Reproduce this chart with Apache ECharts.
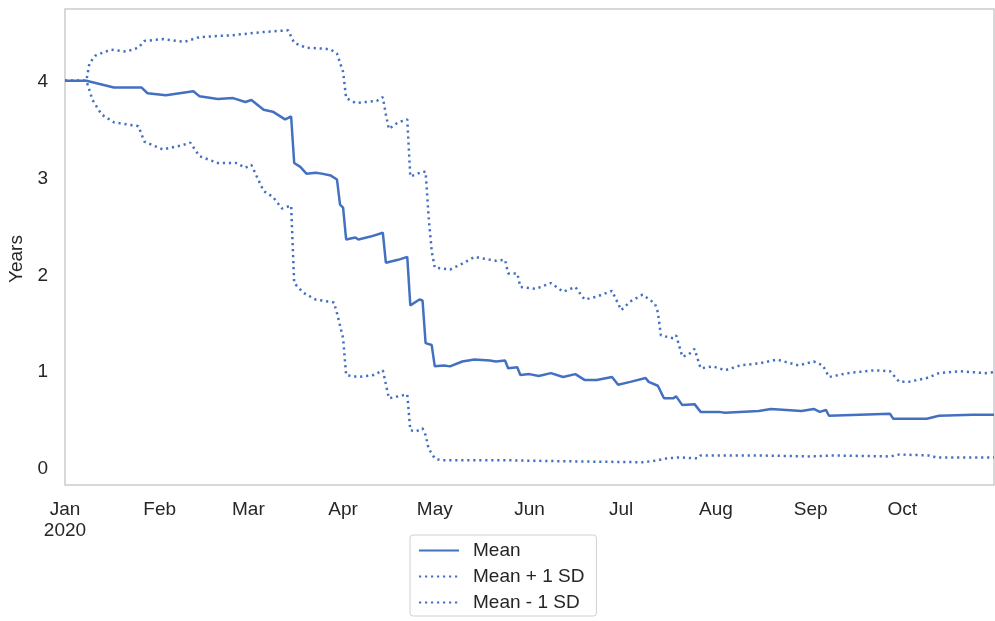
<!DOCTYPE html>
<html>
<head>
<meta charset="utf-8">
<script src="https://cdn.jsdelivr.net/npm/echarts@6/dist/echarts.min.js"></script>
<style>
html,body{margin:0;padding:0;background:#fff;}
#chart{width:995px;height:621px;}
</style>
</head>
<body>
<div id="chart"></div>
<script>
// Day offsets from 2020-01-01 and values (years)
const meanDays = [0,7,16,25,27,33,42,44,50,55,59,61,65,68,72,74,75,77,79,82,84,87,89,90,91,92,95,96,100,104,105,109,112,113,116,117,118,120,121,124,126,130,134,139,141,144,145,148,149,152,155,159,163,167,170,174,179,181,185,190,191,194,196,199,200,202,206,208,214,216,227,231,241,245,247,249,250,260,270,271,282,286,297,304];
const meanVals = [4.01,4.01,3.94,3.94,3.88,3.86,3.90,3.85,3.82,3.83,3.79,3.81,3.71,3.69,3.61,3.64,3.16,3.12,3.05,3.06,3.05,3.03,2.99,2.73,2.70,2.37,2.39,2.37,2.40,2.44,2.13,2.16,2.19,1.69,1.75,1.74,1.30,1.28,1.06,1.07,1.06,1.11,1.13,1.12,1.11,1.12,1.04,1.05,0.97,0.98,0.96,0.99,0.95,0.98,0.92,0.92,0.95,0.87,0.90,0.94,0.90,0.86,0.73,0.73,0.75,0.66,0.67,0.59,0.59,0.58,0.60,0.62,0.60,0.62,0.59,0.61,0.55,0.56,0.57,0.52,0.52,0.55,0.56,0.56];

const upperDays = [0,7,8,10,15,20,24,26,32,39,44,55,64,73,75,79,85,87,89,91,92,95,102,104,105,106,109,112,113,117,118,119,120,121,126,130,134,141,144,145,148,149,154,159,163,167,170,174,179,182,185,189,193,194,195,199,200,202,204,206,208,212,216,221,227,233,240,245,248,250,256,265,270,273,276,282,286,293,301,304];
const upperVals = [4.01,4.01,4.19,4.27,4.33,4.31,4.35,4.42,4.44,4.41,4.46,4.48,4.51,4.53,4.40,4.35,4.34,4.33,4.29,4.10,3.83,3.78,3.80,3.84,3.66,3.51,3.58,3.61,3.02,3.07,3.07,2.60,2.25,2.08,2.06,2.12,2.19,2.15,2.16,2.02,2.02,1.88,1.86,1.92,1.83,1.88,1.75,1.78,1.84,1.64,1.73,1.80,1.71,1.62,1.38,1.35,1.38,1.16,1.18,1.24,1.04,1.06,1.02,1.07,1.09,1.13,1.07,1.11,1.07,0.95,0.99,1.02,1.01,0.90,0.90,0.94,0.99,1.01,0.99,1.00];

const lowerDays = [0,7,9,12,16,20,24,26,32,38,41,44,50,56,59,61,65,68,71,74,75,78,82,88,89,91,92,96,101,104,106,109,112,113,115,117,118,119,121,123,145,163,189,194,197,201,207,208,227,244,251,270,273,283,285,304];
const lowerVals = [4.01,4.01,3.81,3.66,3.58,3.56,3.54,3.38,3.30,3.34,3.37,3.23,3.16,3.16,3.11,3.14,2.87,2.81,2.69,2.72,1.92,1.82,1.75,1.72,1.61,1.35,0.97,0.95,0.97,1.02,0.73,0.75,0.77,0.40,0.39,0.42,0.35,0.21,0.11,0.09,0.09,0.08,0.07,0.09,0.11,0.12,0.11,0.14,0.14,0.13,0.14,0.13,0.15,0.14,0.12,0.12];

const seriesNames = ['Mean', 'Mean + 1 SD', 'Mean - 1 SD'];
const yTickLabels = [0, 1, 2, 3, 4];
const monthLabels = ['Jan','Feb','Mar','Apr','May','Jun','Jul','Aug','Sep','Oct','Nov','Dec'];
const startDate = '2020-01-01';
const endDate = '2020-10-31';

const DAY = 86400000;
const base = Date.parse(startDate + 'T00:00:00Z');
function toPairs(days, vals){ return days.map((d,i)=>[base + d*DAY, vals[i]]); }

const color = '#4470c2';
const font = 'Liberation Sans, Arial, sans-serif';
const fs = 19;
const chart = echarts.init(document.getElementById('chart'), null, {renderer:'canvas'});
chart.setOption({
  animation: false,
  textStyle: {fontFamily: font},
  grid: {left: 65, top: 9, right: 1, bottom: 136, containLabel: false, outerBoundsMode: 'none', show: true, borderColor: '#cccccc', borderWidth: 1.5, backgroundColor: '#fff'},
  xAxis: {
    type: 'time',
    min: Date.parse(startDate + 'T00:00:00Z'),
    max: Date.parse(endDate + 'T00:00:00Z'),
    minInterval: 28*DAY, maxInterval: 31*DAY,
    axisLine: {show: false}, axisTick: {show: false}, splitLine: {show: false},
    axisLabel: {
      color: '#262626', fontSize: fs, margin: 14, fontFamily: font, lineHeight: 21,
      hideOverlap: false, showMinLabel: true, showMaxLabel: false,
      formatter: function(v){ const d = new Date(v); const m = d.getUTCMonth(); return m === 0 ? monthLabels[m] + '\n' + d.getUTCFullYear() : monthLabels[m]; }
    }
  },
  yAxis: {
    type: 'value', min: -0.165, max: 4.75,
    name: 'Years', nameLocation: 'middle', nameGap: 38,
    nameTextStyle: {color: '#262626', fontSize: fs, fontFamily: font, padding: [0, 24, 0, 0]},
    axisLine: {show: false}, axisTick: {show: false}, splitLine: {show: false},
    axisLabel: {color: '#262626', fontSize: fs, margin: 17, fontFamily: font, customValues: yTickLabels}
  },
  legend: {
    orient: 'vertical', left: 410, top: 535,
    data: seriesNames,
    itemWidth: 40, itemHeight: 14, itemGap: 7,
    padding: [6, 12, 4, 8],
    itemStyle: {opacity: 0},
    borderColor: '#d0d0d0', borderWidth: 1, borderRadius: 3,
    textStyle: {color: '#262626', fontSize: fs, fontFamily: font, padding: [0,0,0,9]}
  },
  series: [
    {name: seriesNames[0], type: 'line', data: toPairs(meanDays, meanVals), showSymbol: false, symbol: 'none', lineStyle: {color: color, width: 2.5}, itemStyle: {color: color}},
    {name: seriesNames[1], type: 'line', data: toPairs(upperDays, upperVals), showSymbol: false, symbol: 'none', lineStyle: {color: color, width: 2.5, type: [2.2, 3.8]}, itemStyle: {color: color}},
    {name: seriesNames[2], type: 'line', data: toPairs(lowerDays, lowerVals), showSymbol: false, symbol: 'none', lineStyle: {color: color, width: 2.5, type: [2.2, 3.8]}, itemStyle: {color: color}}
  ]
});
</script>
</body>
</html>
